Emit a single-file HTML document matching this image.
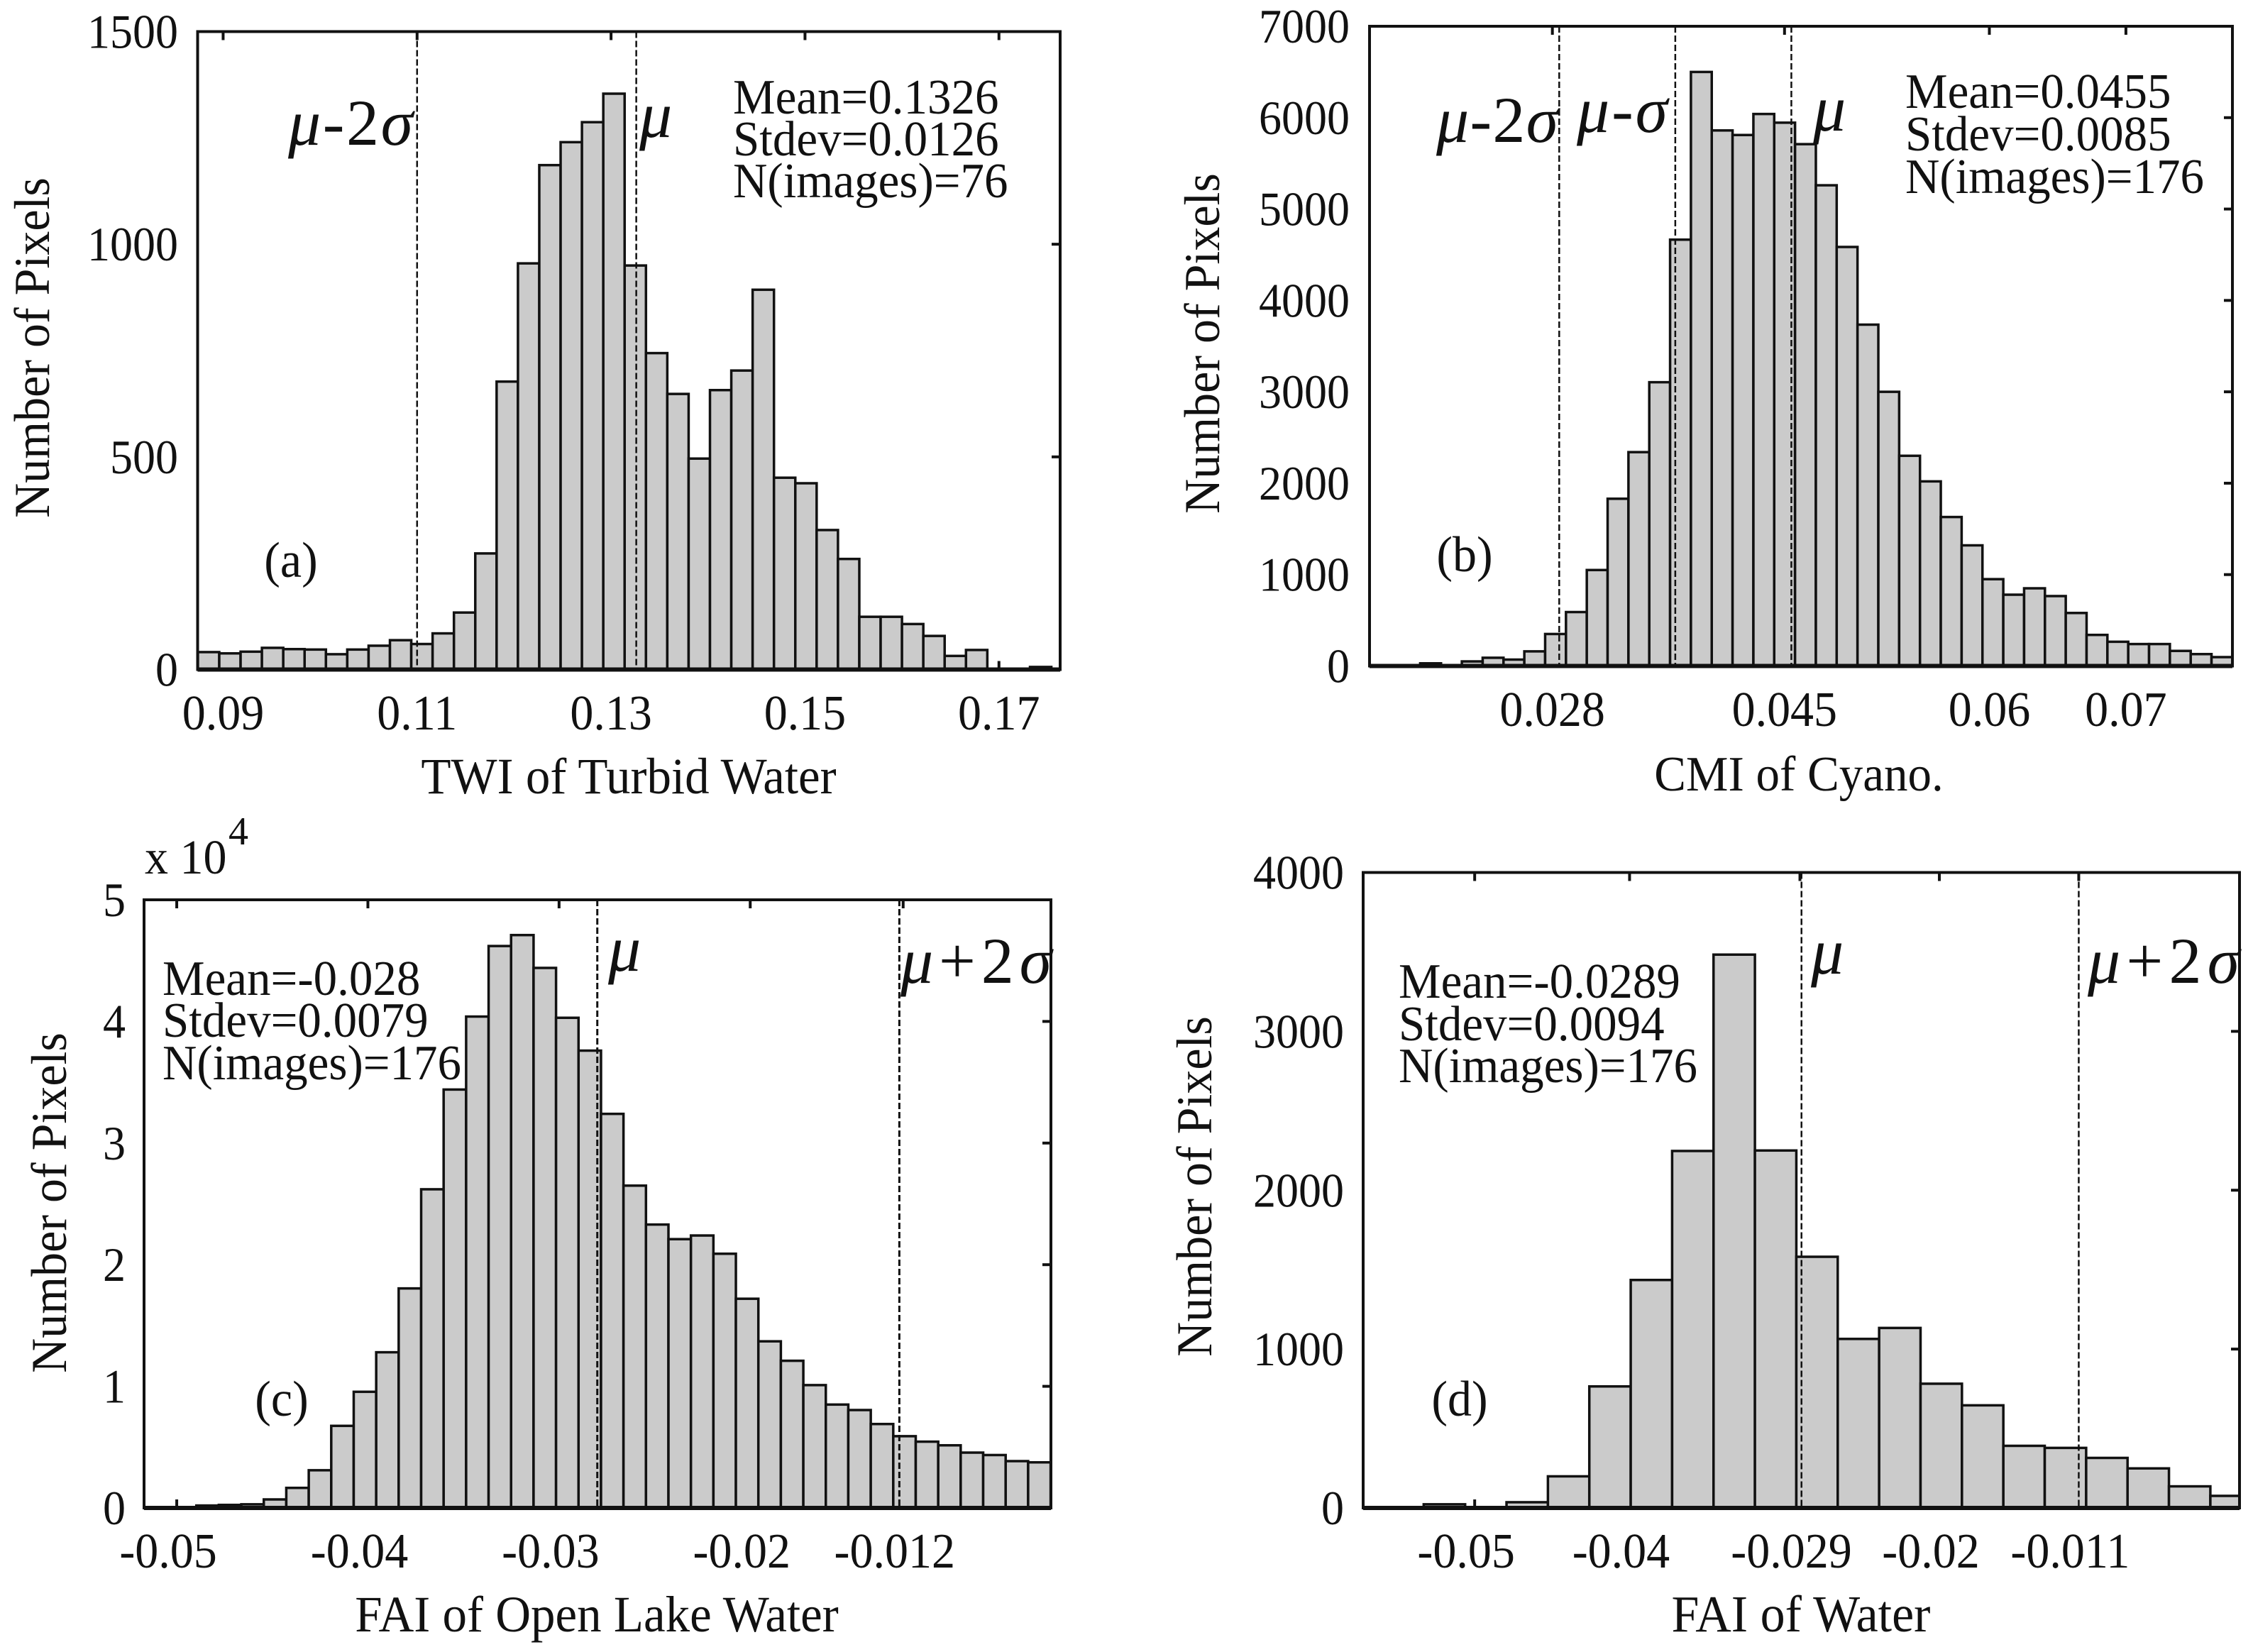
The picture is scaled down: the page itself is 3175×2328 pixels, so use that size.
<!DOCTYPE html>
<html lang="en">
<head>
<meta charset="utf-8">
<title>Histograms of water indices</title>
<style>
  html, body { margin: 0; padding: 0; background: #fff; }
  svg { display: block; }
  text { font-family: "Liberation Serif", "DejaVu Serif", serif; fill: #111; }
  .lab { font-size: 68px; }
  .ann { font-size: 67px; }
  .sym { font-size: 92px; }
</style>
</head>
<body>
<svg id="figure" xmlns="http://www.w3.org/2000/svg" width="3175" height="2328" viewBox="0 0 3175 2328">
  <rect x="0" y="0" width="3175" height="2328" fill="#fff"/>

  <g id="panel-a"></g>
  <g id="panel-b"></g>
  <g id="panel-c"></g>
  <g id="panel-d"></g>

  <!-- Panel a text -->
  <text class="lab" text-anchor="middle" transform="translate(69,490) rotate(-90) scale(1,1.05)">Number of Pixels</text>
  <text class="lab" text-anchor="middle" style="font-size:69px" transform="translate(886,1118) scale(1,1.05)">TWI of Turbid Water</text>
  <text class="lab" text-anchor="middle" transform="translate(410,813) scale(1,1.05)">(a)</text>
  <text class="ann" transform="translate(1033,160) scale(1,1.05)">Mean=0.1326</text>
  <text class="ann" transform="translate(1033,219) scale(1,1.05)">Stdev=0.0126</text>
  <text class="ann" transform="translate(1033,278) scale(1,1.05)">N(images)=76</text>
  <text class="sym" x="406" y="204" textLength="176"><tspan font-style="italic">μ</tspan>-2<tspan font-style="italic">σ</tspan></text>
  <text class="sym" x="901" y="193" font-style="italic">μ</text>

  <!-- Panel b text -->
  <text class="lab" text-anchor="middle" transform="translate(1718,484) rotate(-90) scale(1,1.05)">Number of Pixels</text>
  <text class="lab" text-anchor="middle" style="font-size:67px" transform="translate(2535,1114) scale(1,1.05)">CMI of Cyano.</text>
  <text class="lab" text-anchor="middle" transform="translate(2064,805) scale(1,1.05)">(b)</text>
  <text class="ann" transform="translate(2685,152) scale(1,1.05)">Mean=0.0455</text>
  <text class="ann" transform="translate(2685,212) scale(1,1.05)">Stdev=0.0085</text>
  <text class="ann" transform="translate(2685,272) scale(1,1.05)">N(images)=176</text>
  <text class="sym" x="2024" y="200" textLength="172"><tspan font-style="italic">μ</tspan>-2<tspan font-style="italic">σ</tspan></text>
  <text class="sym" x="2222" y="186" textLength="128"><tspan font-style="italic">μ</tspan>-<tspan font-style="italic">σ</tspan></text>
  <text class="sym" x="2555" y="184" font-style="italic">μ</text>

  <!-- Panel c text -->
  <text class="lab" text-anchor="middle" transform="translate(93,1695) rotate(-90) scale(1,1.05)">Number of Pixels</text>
  <text class="lab" text-anchor="middle" style="font-size:69px" transform="translate(841,2299) scale(1,1.05)">FAI of Open Lake Water</text>
  <text class="lab" text-anchor="middle" transform="translate(397,1995) scale(1,1.05)">(c)</text>
  <text class="lab" style="font-size:66px" transform="translate(204,1231) scale(1,1.05)">x 10</text>
  <text font-size="56" transform="translate(322,1190)">4</text>
  <text class="ann" transform="translate(229,1402) scale(1,1.05)">Mean=-0.028</text>
  <text class="ann" transform="translate(229,1461) scale(1,1.05)">Stdev=0.0079</text>
  <text class="ann" transform="translate(229,1521) scale(1,1.05)">N(images)=176</text>
  <text class="sym" x="857" y="1368" font-style="italic">μ</text>
  <text class="sym" x="1269" y="1385" textLength="213"><tspan font-style="italic">μ</tspan>+2<tspan font-style="italic">σ</tspan></text>

  <!-- Panel d text -->
  <text class="lab" text-anchor="middle" transform="translate(1707,1672) rotate(-90) scale(1,1.05)">Number of Pixels</text>
  <text class="lab" text-anchor="middle" style="font-size:70px" transform="translate(2538,2299) scale(1,1.05)">FAI of Water</text>
  <text class="lab" text-anchor="middle" transform="translate(2057,1995) scale(1,1.05)">(d)</text>
  <text class="ann" transform="translate(1971,1406) scale(1,1.05)">Mean=-0.0289</text>
  <text class="ann" transform="translate(1971,1466) scale(1,1.05)">Stdev=0.0094</text>
  <text class="ann" transform="translate(1971,1525) scale(1,1.05)">N(images)=176</text>
  <text class="sym" x="2552" y="1372" font-style="italic">μ</text>
  <text class="sym" x="2942" y="1385" textLength="214"><tspan font-style="italic">μ</tspan>+2<tspan font-style="italic">σ</tspan></text>
</svg>

<script>
/* Panel a data */
const aCounts = [41, 38, 42, 51, 48, 47, 36, 47, 56, 69, 60, 85, 134, 273, 677, 955, 1186, 1240, 1287, 1354, 950, 744, 648, 496, 657, 703, 893, 451, 438, 328, 260, 124, 124, 107, 79, 32, 46, 1, 1, 6];
const aBinStart = 0.0874;
const aBinWidth = 0.0022;
const aXTicks = [0.09, 0.11, 0.13, 0.15, 0.17];
const aXLabels = ['0.09', '0.11', '0.13', '0.15', '0.17'];
const aYTicks = [0, 500, 1000, 1500];
const aYLabels = ['0', '500', '1000', '1500'];
const aMarkers = [0.11, 0.1326];

/* Panel b data */
const bCounts = [29, 5, 50, 90, 70, 160, 350, 590, 1050, 1830, 2340, 3105, 4665, 6500, 5860, 5810, 6040, 5945, 5710, 5260, 4585, 3735, 3000, 2300, 2020, 1630, 1320, 950, 780, 850, 765, 580, 340, 265, 240, 240, 165, 130, 97];
const bBinStart = 0.01832;
const bBinWidth = 0.001525;
const bXTicks = [0.028, 0.045, 0.06, 0.07];
const bXLabels = ['0.028', '0.045', '0.06', '0.07'];
const bYTicks = [0, 1000, 2000, 3000, 4000, 5000, 6000, 7000];
const bYLabels = ['0', '1000', '2000', '3000', '4000', '5000', '6000', '7000'];
const bMarkers = [0.0285, 0.037, 0.0455];

/* Panel c data (counts in units of 10^4) */
const cCounts = [0, 0.02, 0.025, 0.03, 0.07, 0.165, 0.31, 0.675, 0.955, 1.28, 1.805, 2.62, 3.44, 4.04, 4.62, 4.71, 4.44, 4.03, 3.76, 3.24, 2.65, 2.33, 2.21, 2.24, 2.09, 1.72, 1.37, 1.21, 1.01, 0.85, 0.805, 0.69, 0.59, 0.545, 0.515, 0.455, 0.435, 0.385, 0.375];
const cBinStart = -0.05015;
const cBinWidth = 0.001176;
const cXTicks = [-0.05, -0.04, -0.03, -0.02, -0.012];
const cXLabels = ['-0.05', '-0.04', '-0.03', '-0.02', '-0.012'];
const cYTicks = [0, 1, 2, 3, 4, 5];
const cYLabels = ['0', '1', '2', '3', '4', '5'];
const cMarkers = [-0.028, -0.0122];

/* Panel d data */
const dCounts = [23, 0, 36, 199, 765, 1435, 2247, 3483, 2250, 1581, 1064, 1133, 782, 646, 391, 378, 315, 249, 136, 76];
const dBinStart = -0.05329;
const dBinWidth = 0.002673;
const dXTicks = [-0.05, -0.04, -0.029, -0.02, -0.011];
const dXLabels = ['-0.05', '-0.04', '-0.029', '-0.02', '-0.011'];
const dYTicks = [0, 1000, 2000, 3000, 4000];
const dYLabels = ['0', '1000', '2000', '3000', '4000'];
const dMarkers = [-0.0289, -0.011];

const SVG_NS = 'http://www.w3.org/2000/svg';
const INK = '#111';

function svgEl(tag, props) {
  const el = document.createElementNS(SVG_NS, tag);
  for (const key in props) el.setAttribute(key, props[key]);
  return el;
}

function drawPanel(id, cfg) {
  const root = document.getElementById(id);
  const f = cfg.frame;
  const xScale = v => f.l + (v - cfg.xDomain[0]) / (cfg.xDomain[1] - cfg.xDomain[0]) * (f.r - f.l);
  const yScale = v => f.b - v / cfg.yMax * (f.b - f.t);
  const tickLen = 12;

  /* x ticks and labels */
  cfg.xTicks.forEach((v, i) => {
    const x = xScale(v);
    const top = svgEl('line', { x1: x, x2: x, y1: f.t, y2: f.t + tickLen, stroke: INK, 'stroke-width': 4 });
    
    
    root.appendChild(top);
    const bottom = svgEl('line', { x1: x, x2: x, y1: f.b, y2: f.b - tickLen, stroke: INK, 'stroke-width': 4 });
    
    
    root.appendChild(bottom);
    const label = svgEl('text', { 'font-size': 66, 'text-anchor': 'middle', transform: 'translate(' + (x + cfg.labelNudge) + ',' + cfg.xLabelY + ') scale(1,1.06)' });
    label.textContent = cfg.xLabels[i];
    
    
    root.appendChild(label);
  });

  /* y ticks and labels */
  cfg.yTicks.forEach((v, i) => {
    const y = yScale(v);
    const tick = svgEl('line', { x1: f.r, x2: f.r - tickLen, y1: y, y2: y, stroke: INK, 'stroke-width': 4 });
    
    
    root.appendChild(tick);
    const label = svgEl('text', { 'font-size': 64, 'text-anchor': 'end', transform: 'translate(' + cfg.yLabelX + ',' + (y + 23) + ') scale(1,1.06)' });
    label.textContent = cfg.yLabels[i];
    
    
    root.appendChild(label);
  });

  /* histogram bars */
  cfg.counts.forEach((count, i) => {
    const x1 = Math.max(f.l, xScale(cfg.binStart + i * cfg.binWidth));
    const x2 = Math.min(f.r, xScale(cfg.binStart + (i + 1) * cfg.binWidth));
    const yTop = yScale(count);
    const bar = svgEl('rect', { x: x1, y: yTop, width: Math.max(0, x2 - x1), height: f.b - yTop, fill: '#cbcbcb', stroke: INK, 'stroke-width': 3.5 });
    
    
    root.appendChild(bar);
  });

  /* vertical statistic markers */
  cfg.markers.forEach(v => {
    const x = xScale(v);
    const marker = svgEl('line', { x1: x, x2: x, y1: f.t, y2: f.b, stroke: INK, 'stroke-width': cfg.markerWidth, 'stroke-dasharray': '9 4' });
    
    
    root.appendChild(marker);
  });

  /* axes frame */
  const frame = svgEl('rect', { x: f.l, y: f.t, width: f.r - f.l, height: f.b - f.t, fill: 'none', stroke: INK, 'stroke-width': 4 });
  
  
  root.appendChild(frame);
  const baseline = svgEl('line', { x1: f.l, x2: f.r, y1: f.b, y2: f.b, stroke: INK, 'stroke-width': 6 });
  
  
  root.appendChild(baseline);
}

drawPanel('panel-a', {
  frame: { l: 278.5, r: 1494, t: 44.5, b: 943.5 },
  xDomain: [0.08737, 0.17631], yMax: 1500,
  counts: aCounts, binStart: aBinStart, binWidth: aBinWidth,
  xTicks: aXTicks, xLabels: aXLabels, yTicks: aYTicks, yLabels: aYLabels,
  markers: aMarkers, markerWidth: 2.5, labelNudge: 0, xLabelY: 1028, yLabelX: 251
});
drawPanel('panel-b', {
  frame: { l: 1930, r: 3146, t: 37, b: 938.5 },
  xDomain: [0.01461, 0.0778], yMax: 7000,
  counts: bCounts, binStart: bBinStart, binWidth: bBinWidth,
  xTicks: bXTicks, xLabels: bXLabels, yTicks: bYTicks, yLabels: bYLabels,
  markers: bMarkers, markerWidth: 2.5, labelNudge: 0, xLabelY: 1023, yLabelX: 1902
});
drawPanel('panel-c', {
  frame: { l: 203, r: 1481, t: 1268, b: 2125 },
  xDomain: [-0.05171, -0.00427], yMax: 5,
  counts: cCounts, binStart: cBinStart, binWidth: cBinWidth,
  xTicks: cXTicks, xLabels: cXLabels, yTicks: cYTicks, yLabels: cYLabels,
  markers: cMarkers, markerWidth: 3, labelNudge: -12, xLabelY: 2209, yLabelX: 177
});
drawPanel('panel-d', {
  frame: { l: 1921, r: 3156, t: 1229.5, b: 2125 },
  xDomain: [-0.0572, -0.00062], yMax: 4000,
  counts: dCounts, binStart: dBinStart, binWidth: dBinWidth,
  xTicks: dXTicks, xLabels: dXLabels, yTicks: dYTicks, yLabels: dYLabels,
  markers: dMarkers, markerWidth: 2.5, labelNudge: -12, xLabelY: 2209, yLabelX: 1894
});
</script>
</body>
</html>
